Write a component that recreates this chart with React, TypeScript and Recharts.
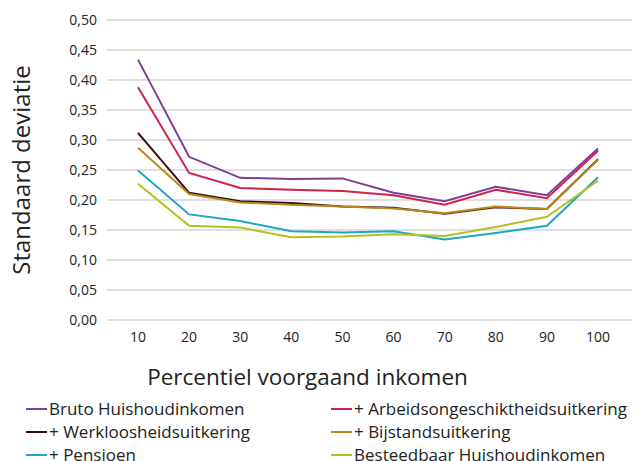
import { LineChart, Line, XAxis, YAxis, CartesianGrid } from 'recharts'

const percentielen = ['10', '20', '30', '40', '50', '60', '70', '80', '90', '100']

const bruto = [0.434, 0.272, 0.237, 0.235, 0.236, 0.212, 0.198, 0.222, 0.208, 0.286]
const arbeidsongeschikt = [0.388, 0.245, 0.22, 0.217, 0.215, 0.208, 0.192, 0.217, 0.203, 0.282]
const werkloos = [0.312, 0.212, 0.198, 0.195, 0.189, 0.187, 0.177, 0.188, 0.185, 0.268]
const bijstand = [0.287, 0.21, 0.196, 0.192, 0.189, 0.186, 0.178, 0.189, 0.185, 0.267]
const pensioen = [0.249, 0.176, 0.165, 0.148, 0.146, 0.148, 0.134, 0.145, 0.157, 0.238]
const besteedbaar = [0.227, 0.157, 0.154, 0.138, 0.139, 0.143, 0.14, 0.155, 0.172, 0.232]

const yTicks = [0, 0.05, 0.1, 0.15, 0.2, 0.25, 0.3, 0.35, 0.4, 0.45, 0.5]

const series = [
  { key: 'bruto', name: 'Bruto Huishoudinkomen', color: '#7d3f98', values: bruto },
  { key: 'arbeid', name: '+ Arbeidsongeschiktheidsuitkering', color: '#d2214d', values: arbeidsongeschikt },
  { key: 'werkloos', name: '+ Werkloosheidsuitkering', color: '#3a0b0e', values: werkloos },
  { key: 'bijstand', name: '+ Bijstandsuitkering', color: '#b8891c', values: bijstand },
  { key: 'pensioen', name: '+ Pensioen', color: '#1ba6c4', values: pensioen },
  { key: 'besteedbaar', name: 'Besteedbaar Huishoudinkomen', color: '#b4c01f', values: besteedbaar },
]

const data = percentielen.map((p, i) => {
  const row: Record<string, string | number> = { p }
  series.forEach((s) => {
    row[s.key] = s.values[i]
  })
  return row
})

const FONT = '"Open Sans", "Noto Sans", sans-serif'

// legend sits under the chart, two columns, row-major like the original
function LegendBlock() {
  return (
    <div
      style={{
        position: 'absolute',
        left: 26,
        top: 397,
        display: 'grid',
        gridTemplateColumns: '305px 300px',
        fontFamily: FONT,
        fontSize: 17,
        lineHeight: '14px',
        color: '#222',
      }}
    >
      {series.map((s) => (
        <div key={s.key} style={{ display: 'flex', alignItems: 'center', height: 23, whiteSpace: 'nowrap' }}>
          <span style={{ display: 'inline-block', width: 21, height: 2, background: s.color, marginRight: 2 }} />
          <span>{s.name}</span>
        </div>
      ))}
    </div>
  )
}

export default function App() {
  return (
    <div style={{ position: 'absolute', left: 0, top: 0, width: 638, height: 461, background: '#fff' }}>
      <LineChart width={638} height={461} data={data} margin={{ top: 20, right: 6, bottom: 71, left: 27 }}>
        <CartesianGrid vertical={false} stroke="#d4d4d4" strokeWidth={1.5} />
        <XAxis
          dataKey="p"
          axisLine={false}
          tickLine={false}
          padding={{ left: 31, right: 34 }}
          tick={{ fontSize: 14, fill: '#222', fontFamily: FONT }}
          tickMargin={6}
          height={70}
          label={{
            value: 'Percentiel voorgaand inkomen',
            position: 'insideBottom',
            offset: 5,
            dx: -62,
            style: { fontSize: 22.5, fill: '#222', fontFamily: FONT },
          }}
        />
        <YAxis
          domain={[0, 0.5]}
          ticks={yTicks}
          width={80}
          axisLine={false}
          tickLine={false}
          tickMargin={4}
          tickFormatter={(v: number) => v.toFixed(2).replace('.', ',')}
          tick={{ fontSize: 14, fill: '#222', fontFamily: FONT }}
          label={{
            value: 'Standaard deviatie',
            angle: -90,
            position: 'insideLeft',
            offset: 0,
            dx: -6,
            dy: 0,
            style: { fontSize: 24, fill: '#222', fontFamily: FONT, textAnchor: 'middle' },
          }}
        />
        {series.map((s) => (
          <Line
            key={s.key}
            type="linear"
            dataKey={s.key}
            name={s.name}
            stroke={s.color}
            strokeWidth={2}
            dot={false}
            isAnimationActive={false}
          />
        ))}
      </LineChart>
      <LegendBlock />
    </div>
  )
}
